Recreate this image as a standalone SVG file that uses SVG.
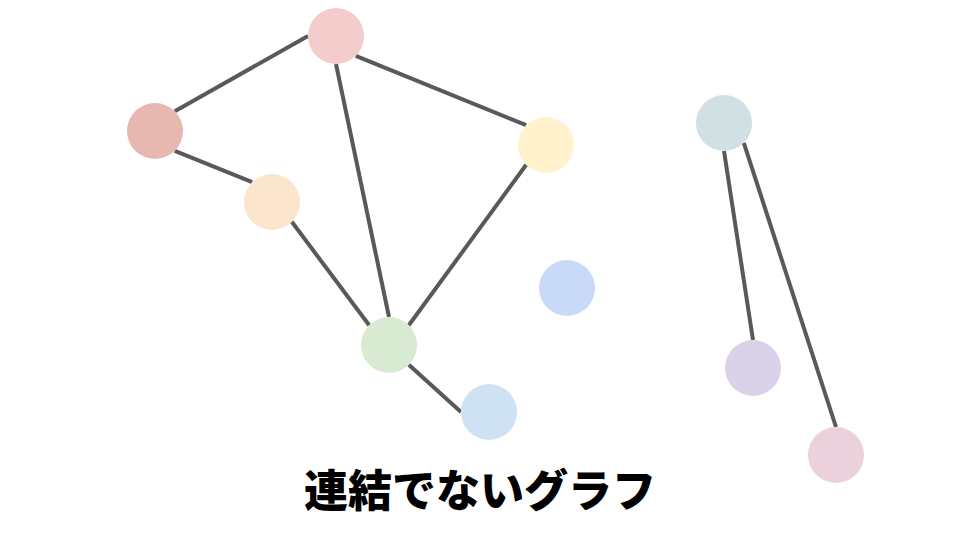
<svg xmlns="http://www.w3.org/2000/svg" width="960" height="540" viewBox="0 0 960 540">
<style>
.e{stroke:#595959;stroke-width:4;fill:none}
.t{font-family:"Noto Sans CJK JP","Noto Sans",sans-serif;font-weight:900;font-size:44px;fill:#000}
</style>
<rect width="960" height="540" fill="#ffffff"/>
<g id="edges">
<line class="e" x1="308" y1="36" x2="174.8" y2="111.2"/>
<line class="e" x1="355.8" y1="55.8" x2="526.2" y2="125.2"/>
<line class="e" x1="336" y1="64" x2="389" y2="317"/>
<line class="e" x1="174.8" y1="150.8" x2="252.2" y2="182.2"/>
<line class="e" x1="291.8" y1="221.8" x2="369.2" y2="325.2"/>
<line class="e" x1="526.2" y1="164.8" x2="408.8" y2="325.2"/>
<line class="e" x1="408.8" y1="364.8" x2="461" y2="412"/>
<line class="e" x1="724" y1="151" x2="753" y2="340"/>
<line class="e" x1="743.8" y1="142.8" x2="836" y2="427"/>
</g>
<g id="n1"><circle cx="336" cy="36" r="28" fill="#f4cccc"/></g>
<g id="n2"><circle cx="155" cy="131" r="28" fill="#e6b8af"/></g>
<g id="n3"><circle cx="272" cy="202" r="28" fill="#fce5cd"/></g>
<g id="n4"><circle cx="546" cy="145" r="28" fill="#fff2cc"/></g>
<g id="n5"><circle cx="389" cy="345" r="28" fill="#d9ead3"/></g>
<g id="n6"><circle cx="567" cy="288" r="28" fill="#c9daf8"/></g>
<g id="n7"><circle cx="489" cy="412" r="28" fill="#cfe2f3"/></g>
<g id="n8"><circle cx="724" cy="123" r="28" fill="#d0e0e3"/></g>
<g id="n9"><circle cx="753" cy="368" r="28" fill="#d9d2e9"/></g>
<g id="n10"><circle cx="836" cy="455" r="28" fill="#ead1dc"/></g>
<text class="t" x="480" y="507" text-anchor="middle">連結でないグラフ</text>
</svg>
